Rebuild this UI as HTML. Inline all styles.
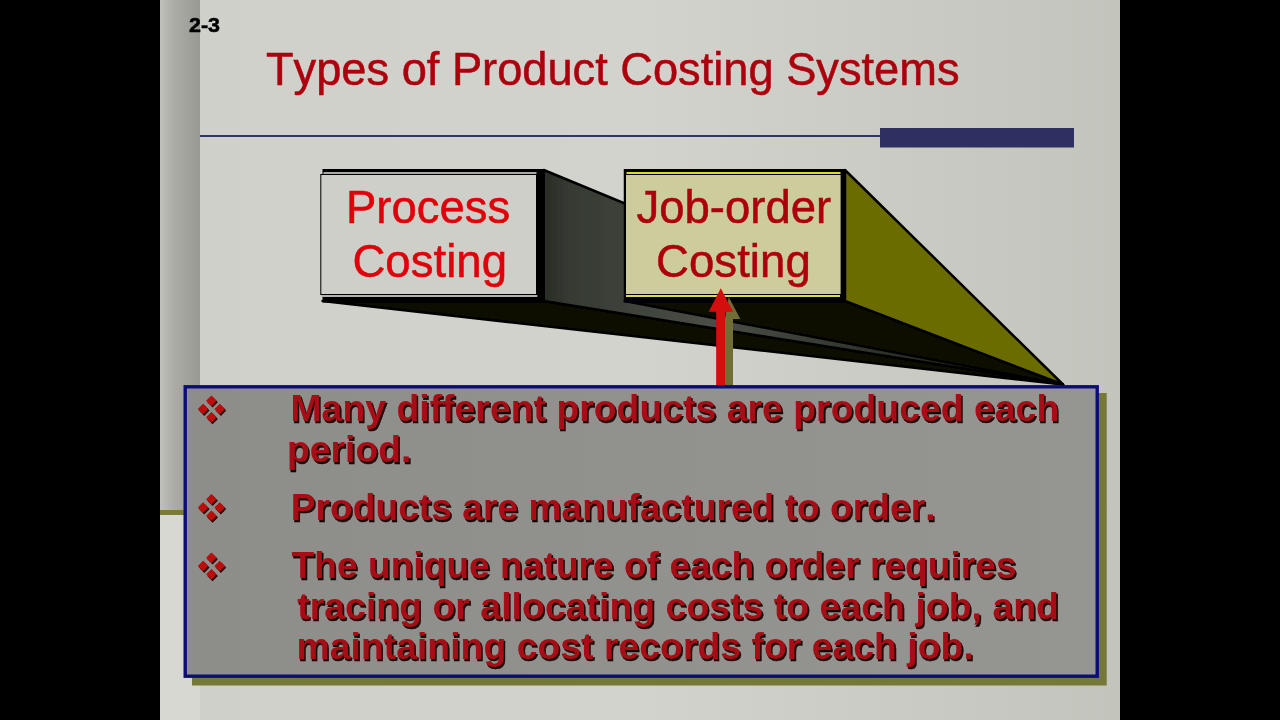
<!DOCTYPE html>
<html><head><meta charset="utf-8"><title>Types of Product Costing Systems</title>
<style>
html,body{margin:0;padding:0;background:#000;}
body{width:1280px;height:720px;overflow:hidden;position:relative;font-family:"Liberation Sans",sans-serif;}
svg{position:absolute;left:0;top:0;display:block}
text{font-family:"Liberation Sans",sans-serif;font-kerning:none;}
</style></head><body>
<svg width="1280" height="720" viewBox="0 0 1280 720">
<defs>
<linearGradient id="strip" x1="0" x2="1" y1="0" y2="0"><stop offset="0" stop-color="#c0c1ba"/><stop offset="0.35" stop-color="#abaca5"/><stop offset="1" stop-color="#989992"/></linearGradient>
<linearGradient id="bg" x1="0" x2="1" y1="0" y2="0"><stop offset="0" stop-color="#cfd0c9"/><stop offset="0.5" stop-color="#d2d3cc"/><stop offset="1" stop-color="#c3c4bc"/></linearGradient>
<linearGradient id="side1" gradientUnits="userSpaceOnUse" x1="543" x2="1063" y1="0" y2="0"><stop offset="0" stop-color="#282c24"/><stop offset="0.05" stop-color="#363a32"/><stop offset="0.33" stop-color="#4a4e46"/><stop offset="0.6" stop-color="#32362e"/><stop offset="1" stop-color="#101408"/></linearGradient>
<linearGradient id="boxfill" x1="0" x2="1" y1="0" y2="0"><stop offset="0" stop-color="#8d8e89"/><stop offset="1" stop-color="#959691"/></linearGradient>
<filter id="soft" x="-5%" y="-5%" width="110%" height="110%"><feGaussianBlur stdDeviation="0.6"/></filter>
<filter id="soft2" x="-5%" y="-5%" width="110%" height="110%"><feGaussianBlur stdDeviation="0.45"/></filter>
</defs>
<rect x="0" y="0" width="1280" height="720" fill="#000"/>
<rect x="160" y="0" width="960" height="720" fill="url(#bg)"/>
<!-- left strip -->
<rect x="160" y="0" width="40" height="511" fill="url(#strip)"/>
<rect x="160" y="510" width="40" height="5" fill="#7c7c30"/>
<rect x="160" y="515" width="40" height="205" fill="#d8d8d2"/>
<!-- title rule -->
<rect x="200" y="135" width="682" height="2" fill="#303468"/>
<rect x="880" y="128" width="194" height="19.5" fill="#2d3060"/>
<g filter="url(#soft)">
<polygon points="322.5,301 543.75,301 1063,384.5" fill="#0a0e06" stroke="#000" stroke-width="2.5" stroke-linejoin="round"/>
<polygon points="543.75,170 543.75,301 1063,384.5" fill="url(#side1)" stroke="#000" stroke-width="2.5" stroke-linejoin="round"/>
<polygon points="624.75,301 845,301 1063,384.5" fill="#0c1004" stroke="#000" stroke-width="2.5" stroke-linejoin="round"/>
<polygon points="845,170 845,301 1063,384.5" fill="#6a6c02" stroke="#000" stroke-width="2.5" stroke-linejoin="round"/>
<rect x="322.5" y="169" width="221.25" height="133.5" fill="#000"/>
<rect x="323.5" y="172" width="213" height="2" fill="#aaaaa6"/>
<rect x="320.8" y="174.5" width="215.7" height="120" fill="#cecfc8" stroke="#000" stroke-width="1"/>
<rect x="321.3" y="295" width="216" height="2" fill="#b2b2ae"/>
<rect x="623.75" y="169" width="221.25" height="133.5" fill="#000"/>
<rect x="626.5" y="172" width="214" height="2" fill="#dcdc20"/>
<rect x="626" y="175" width="214.6" height="119" fill="#cccc9c"/>
<rect x="626" y="295" width="214" height="2" fill="#dcdc50"/>
<polygon points="728.7,297 740.3,319 733,319 733,386 725,386 725,319" fill="#706e34"/>
<polygon points="720.8,288.3 733,311.7 725,311.7 725,386 716.2,386 716.2,311.7 708.7,311.7" fill="#d4080e"/>
</g>
<rect x="192" y="393" width="914.7" height="292.5" fill="#76783a"/>
<rect x="185.2" y="386.8" width="912" height="289.4" fill="url(#boxfill)" stroke="#0c0c78" stroke-width="3.4"/>
<g filter="url(#soft2)">
<text x="346.01" y="223" font-size="45.5" font-weight="normal" fill="#e00008" stroke="#e00008" stroke-width="0.5" textLength="164.12" lengthAdjust="spacingAndGlyphs">Process</text>
<text x="352.4" y="276.5" font-size="45.5" font-weight="normal" fill="#e00008" stroke="#e00008" stroke-width="0.5" textLength="154.64" lengthAdjust="spacingAndGlyphs">Costing</text>
<text x="636.5" y="223" font-size="45.5" font-weight="normal" fill="#ac040e" stroke="#ac040e" stroke-width="0.5" textLength="194.73" lengthAdjust="spacingAndGlyphs">Job-order</text>
<text x="655.99" y="276.5" font-size="45.5" font-weight="normal" fill="#ac040e" stroke="#ac040e" stroke-width="0.5" textLength="154.8" lengthAdjust="spacingAndGlyphs">Costing</text>
<text x="266.01" y="84.75" font-size="45.5" font-weight="normal" fill="#ac040e" stroke="#ac040e" stroke-width="0.5" textLength="693.53" lengthAdjust="spacingAndGlyphs">Types of Product Costing Systems</text>
<text x="188.98" y="32" font-size="21" font-weight="bold" fill="#000" stroke="#000" stroke-width="0.5" textLength="31.09" lengthAdjust="spacingAndGlyphs">2-3</text>
</g>
<g font-size="37" font-weight="bold" filter="url(#soft2)">
<text x="291.88" y="423.00" fill="#160000" stroke="#160000" stroke-width="0.4" textLength="768.77" lengthAdjust="spacingAndGlyphs">Many different products are produced each</text>
<text x="288.38" y="463.50" fill="#160000" stroke="#160000" stroke-width="0.4" textLength="124.38" lengthAdjust="spacingAndGlyphs">period.</text>
<text x="292.14" y="521.50" fill="#160000" stroke="#160000" stroke-width="0.4" textLength="644.74" lengthAdjust="spacingAndGlyphs">Products are manufactured to order.</text>
<text x="292.90" y="580.00" fill="#160000" stroke="#160000" stroke-width="0.4" textLength="725.16" lengthAdjust="spacingAndGlyphs">The unique nature of each order requires</text>
<text x="298.60" y="620.50" fill="#160000" stroke="#160000" stroke-width="0.4" textLength="761.8" lengthAdjust="spacingAndGlyphs">tracing or allocating costs to each job, and</text>
<text x="297.87" y="660.50" fill="#160000" stroke="#160000" stroke-width="0.4" textLength="677.31" lengthAdjust="spacingAndGlyphs">maintaining cost records for each job.</text>
<text x="290.48" y="421.1" fill="#a60a12" textLength="768.77" lengthAdjust="spacingAndGlyphs">Many different products are produced each</text>
<text x="286.98" y="461.6" fill="#a60a12" textLength="124.38" lengthAdjust="spacingAndGlyphs">period.</text>
<text x="290.74" y="519.6" fill="#a60a12" textLength="644.74" lengthAdjust="spacingAndGlyphs">Products are manufactured to order.</text>
<text x="291.5" y="578.1" fill="#a60a12" textLength="725.16" lengthAdjust="spacingAndGlyphs">The unique nature of each order requires</text>
<text x="297.2" y="618.6" fill="#a60a12" textLength="761.8" lengthAdjust="spacingAndGlyphs">tracing or allocating costs to each job, and</text>
<text x="296.47" y="658.6" fill="#a60a12" textLength="677.31" lengthAdjust="spacingAndGlyphs">maintaining cost records for each job.</text>
</g>
<g filter="url(#soft2)">
<rect x="-3.75" y="-3.75" width="7.5" height="7.5" fill="#2a0000" transform="translate(212.60,402.30) rotate(45)"/>
<rect x="-3.75" y="-3.75" width="7.5" height="7.5" fill="#2a0000" transform="translate(204.30,410.60) rotate(45)"/>
<rect x="-3.75" y="-3.75" width="7.5" height="7.5" fill="#2a0000" transform="translate(220.90,410.60) rotate(45)"/>
<rect x="-3.75" y="-3.75" width="7.5" height="7.5" fill="#2a0000" transform="translate(212.60,418.90) rotate(45)"/>
<rect x="-3.75" y="-3.75" width="7.5" height="7.5" fill="#bc0810" transform="translate(211.40,400.70) rotate(45)"/>
<rect x="-3.75" y="-3.75" width="7.5" height="7.5" fill="#bc0810" transform="translate(203.10,409.00) rotate(45)"/>
<rect x="-3.75" y="-3.75" width="7.5" height="7.5" fill="#bc0810" transform="translate(219.70,409.00) rotate(45)"/>
<rect x="-3.75" y="-3.75" width="7.5" height="7.5" fill="#bc0810" transform="translate(211.40,417.30) rotate(45)"/>
<rect x="-3.75" y="-3.75" width="7.5" height="7.5" fill="#2a0000" transform="translate(212.60,500.80) rotate(45)"/>
<rect x="-3.75" y="-3.75" width="7.5" height="7.5" fill="#2a0000" transform="translate(204.30,509.10) rotate(45)"/>
<rect x="-3.75" y="-3.75" width="7.5" height="7.5" fill="#2a0000" transform="translate(220.90,509.10) rotate(45)"/>
<rect x="-3.75" y="-3.75" width="7.5" height="7.5" fill="#2a0000" transform="translate(212.60,517.40) rotate(45)"/>
<rect x="-3.75" y="-3.75" width="7.5" height="7.5" fill="#bc0810" transform="translate(211.40,499.20) rotate(45)"/>
<rect x="-3.75" y="-3.75" width="7.5" height="7.5" fill="#bc0810" transform="translate(203.10,507.50) rotate(45)"/>
<rect x="-3.75" y="-3.75" width="7.5" height="7.5" fill="#bc0810" transform="translate(219.70,507.50) rotate(45)"/>
<rect x="-3.75" y="-3.75" width="7.5" height="7.5" fill="#bc0810" transform="translate(211.40,515.80) rotate(45)"/>
<rect x="-3.75" y="-3.75" width="7.5" height="7.5" fill="#2a0000" transform="translate(212.60,559.30) rotate(45)"/>
<rect x="-3.75" y="-3.75" width="7.5" height="7.5" fill="#2a0000" transform="translate(204.30,567.60) rotate(45)"/>
<rect x="-3.75" y="-3.75" width="7.5" height="7.5" fill="#2a0000" transform="translate(220.90,567.60) rotate(45)"/>
<rect x="-3.75" y="-3.75" width="7.5" height="7.5" fill="#2a0000" transform="translate(212.60,575.90) rotate(45)"/>
<rect x="-3.75" y="-3.75" width="7.5" height="7.5" fill="#bc0810" transform="translate(211.40,557.70) rotate(45)"/>
<rect x="-3.75" y="-3.75" width="7.5" height="7.5" fill="#bc0810" transform="translate(203.10,566.00) rotate(45)"/>
<rect x="-3.75" y="-3.75" width="7.5" height="7.5" fill="#bc0810" transform="translate(219.70,566.00) rotate(45)"/>
<rect x="-3.75" y="-3.75" width="7.5" height="7.5" fill="#bc0810" transform="translate(211.40,574.30) rotate(45)"/>
</g>
</svg>
</body></html>
